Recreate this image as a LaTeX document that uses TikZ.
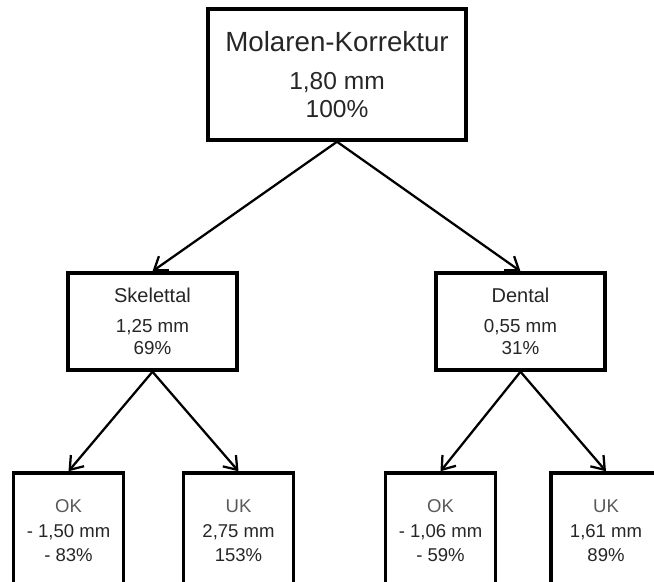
\documentclass[tikz,border=0pt]{standalone}
\usepackage{fontspec}
\setmainfont{Liberation Sans}
\usetikzlibrary{arrows.meta}

\begin{document}
\begin{tikzpicture}[x=0.75pt, y=-0.75pt,
  box/.style={draw, line width=2.6pt, align=center, inner sep=0pt, text=black!85},
  pfeil/.style={-{Straight Barb[length=9pt, width=13pt, line width=1.7pt]}, line width=1.7pt}]
\clip (0,0) rectangle (654,582);
\useasboundingbox (0,0) rectangle (654,582);
\node[box, minimum width=193.5pt, minimum height=98.25pt, font=\fontsize{18.4}{21}\selectfont] (box0) at (337,74.5){{\fontsize{20.8}{21}\selectfont Molaren-Korrektur}\\[7.5pt]1,80 mm\\100\%};
\node[box, minimum width=126.75pt, minimum height=72.75pt, font=\fontsize{14.1}{16.5}\selectfont] (box1) at (152.5,321.5){{\fontsize{15}{16.5}\selectfont Skelettal}\\[6pt]1,25 mm\\69\%};
\node[box, minimum width=126.75pt, minimum height=72.75pt, font=\fontsize{14.1}{16.5}\selectfont] (box2) at (520.5,321.5){{\fontsize{15}{16.5}\selectfont Dental}\\[6pt]0,55 mm\\31\%};
\draw[pfeil](box0.south) -- (box1.north);
\draw[pfeil](box0.south) -- (box2.north);
\node[box, minimum width=82.5pt, minimum height=87pt, font=\fontsize{13.9}{18.4}\selectfont] (box3) at (68.5,531){{\color{black!65}OK}\\- 1,50 mm\\- 83\%};
\node[box, minimum width=82.5pt, minimum height=87pt, font=\fontsize{13.9}{18.4}\selectfont] (box4) at (238.5,531){{\color{black!65}UK}\\2,75 mm\\153\%};
\draw[pfeil](box1.south) -- (box3.north);
\draw[pfeil](box1.south) -- (box4.north);
\node[box, minimum width=82.5pt, minimum height=87pt, font=\fontsize{13.9}{18.4}\selectfont] (box5) at (440.5,531){{\color{black!65}OK}\\- 1,06 mm\\- 59\%};
\node[box, minimum width=82.5pt, minimum height=87pt, font=\fontsize{13.9}{18.4}\selectfont] (box6) at (606,531){{\color{black!65}UK}\\1,61 mm\\89\%};
\draw[pfeil](box2.south) -- (box5.north);
\draw[pfeil](box2.south) -- (box6.north);

\end{tikzpicture}
\end{document}
